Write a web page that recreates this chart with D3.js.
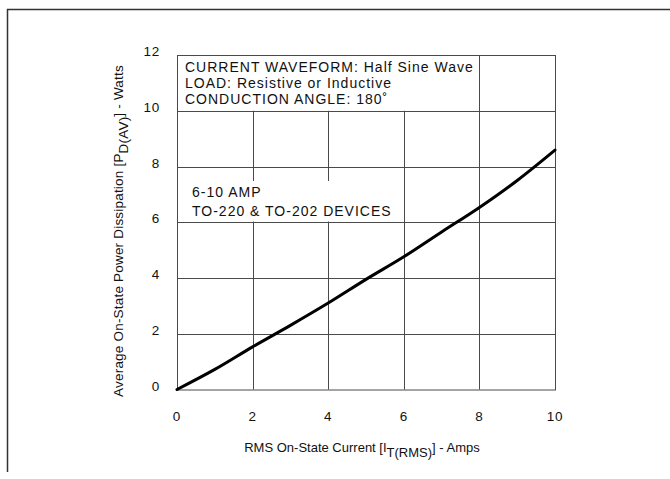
<!DOCTYPE html>
<html><head><meta charset="utf-8">
<script src="https://cdn.jsdelivr.net/npm/d3@7/dist/d3.min.js"></script>
<style>
body{margin:0;background:#fff;}
svg text{font-family:"Liberation Sans",Arial,Helvetica,sans-serif;fill:#111;}
</style></head><body>
<svg id="c" width="670" height="479"></svg>
<script>
// data
const currentAmps = [0, 1, 2, 3, 4, 5, 6, 7, 8, 9, 10];
const powerWatts  = [0, 0.72, 1.53, 2.3, 3.1, 3.95, 4.76, 5.65, 6.53, 7.5, 8.59];
const xTicks = [0, 2, 4, 6, 8, 10];
const yTicks = [0, 2, 4, 6, 8, 10, 12];
const noteLines = ["CURRENT WAVEFORM: Half Sine Wave", "LOAD: Resistive or Inductive", "CONDUCTION ANGLE: 180\u02DA"];
const deviceLines = ["6-10 AMP", "TO-220 & TO-202 DEVICES"];

const svg = d3.select("#c");
const x = d3.scaleLinear().domain([0, 10]).range([177, 555]);
const y = d3.scaleLinear().domain([0, 12]).range([389.5, 55]);
const gridColor = "#4a4a4a";

// outer frame (scan border)
svg.append("line").attr("x1", 7).attr("x2", 670).attr("y1", 9.5).attr("y2", 9.5)
  .attr("stroke", "#333").attr("stroke-width", 1.5);
svg.append("line").attr("x1", 7.5).attr("x2", 7.5).attr("y1", 9).attr("y2", 472)
  .attr("stroke", "#333").attr("stroke-width", 1.5);

const g = svg.append("g");
// horizontal grid
g.selectAll("line.h").data(yTicks.filter(d => d > 0 && d < 12)).enter().append("line")
  .attr("x1", x(0)).attr("x2", x(10)).attr("y1", d => Math.round(y(d)) + 0.5).attr("y2", d => Math.round(y(d)) + 0.5)
  .attr("stroke", gridColor).attr("stroke-width", 1);
// vertical grid (2,4,6 stop at 10 W because of the note box)
g.selectAll("line.v").data(xTicks.filter(d => d > 0 && d < 10)).enter().append("line")
  .attr("x1", d => Math.round(x(d)) + 0.5).attr("x2", d => Math.round(x(d)) + 0.5)
  .attr("y1", y(0)).attr("y2", d => d >= 8 ? y(12) : y(10))
  .attr("stroke", gridColor).attr("stroke-width", 1);
// plot border
g.append("rect").attr("x", x(0) + 0.5).attr("y", y(12) + 0.5)
  .attr("width", x(10) - x(0)).attr("height", y(0) - y(12))
  .attr("fill", "none").attr("stroke", gridColor).attr("stroke-width", 1);

// note box text
const fs = 14;
svg.append("g").selectAll("text").data(noteLines).enter().append("text")
  .attr("x", 185).attr("y", (d, i) => 72 + i * 15.8)
  .attr("font-size", fs).attr("letter-spacing", 1.0).text(d => d);

// device text with white background
const dg = svg.append("g");
const bg = dg.append("rect").attr("fill", "#fff");
dg.selectAll("text").data(deviceLines).enter().append("text")
  .attr("x", 192).attr("y", (d, i) => 197 + i * 18.5)
  .attr("font-size", fs).attr("letter-spacing", 1.0).text(d => d);
const bb = dg.node().getBBox();
bg.attr("x", bb.x - 3).attr("y", bb.y - 3).attr("width", bb.width + 6).attr("height", bb.height + 6);

// curve
const line = d3.line().x(d => x(d[0])).y(d => y(d[1])).curve(d3.curveMonotoneX);
svg.append("path").datum(currentAmps.map((c, i) => [c, powerWatts[i]]))
  .attr("d", line).attr("fill", "none").attr("stroke", "#000").attr("stroke-width", 3)
  .attr("stroke-linecap", "round");

// tick labels
svg.append("g").selectAll("text").data(yTicks).enter().append("text")
  .attr("x", 160).attr("y", d => y(d) + 1).attr("text-anchor", "end")
  .attr("font-size", 13.5).attr("letter-spacing", 0.8).text(d => d);
svg.append("g").selectAll("text").data(xTicks).enter().append("text")
  .attr("x", d => x(d)).attr("y", 421).attr("text-anchor", "middle")
  .attr("font-size", 13.5).attr("letter-spacing", 0.8).text(d => d);

// axis titles
const xt = svg.append("text").attr("x", 362).attr("y", 452).attr("text-anchor", "middle")
  .attr("font-size", 13).attr("letter-spacing", 0);
xt.append("tspan").text("RMS On-State Current [I");
xt.append("tspan").attr("dy", 5).text("T(RMS)");
xt.append("tspan").attr("dy", -5).text("] - Amps");

const yt = svg.append("text").attr("transform", "translate(123,231) rotate(-90)")
  .attr("text-anchor", "middle").attr("font-size", 13.5).attr("letter-spacing", 0.2);
yt.append("tspan").text("Average On-State Power Dissipation [P");
yt.append("tspan").attr("dy", 5).text("D(AV)");
yt.append("tspan").attr("dy", -5).text("] - Watts");
</script>
</body></html>
